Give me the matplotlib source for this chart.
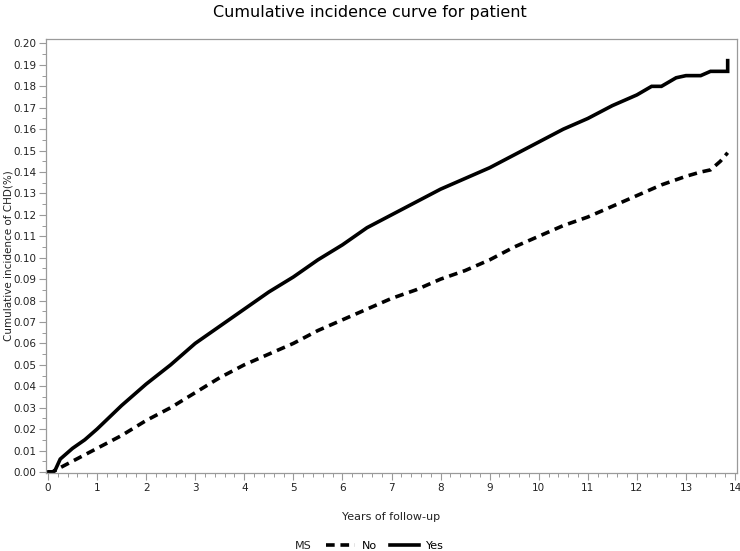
import matplotlib
matplotlib.use("Agg")
import matplotlib.pyplot as plt
from matplotlib.lines import Line2D
from matplotlib.ticker import MultipleLocator

# Data
years_yes = [0, 0.1, 0.15, 0.25, 0.5, 0.75, 1.0, 1.5, 2.0, 2.5, 3.0, 3.5, 4.0, 4.5,
             5.0, 5.5, 6.0, 6.5, 7.0, 7.5, 8.0, 8.5, 9.0, 9.5, 10.0, 10.5, 11.0,
             11.5, 12.0, 12.3, 12.5, 12.8, 13.0, 13.3, 13.5, 13.85, 13.85]
inc_yes = [0, 0, 0.001, 0.006, 0.011, 0.015, 0.020, 0.031, 0.041, 0.050, 0.060,
           0.068, 0.076, 0.084, 0.091, 0.099, 0.106, 0.114, 0.120, 0.126, 0.132,
           0.137, 0.142, 0.148, 0.154, 0.160, 0.165, 0.171, 0.176, 0.180, 0.180,
           0.184, 0.185, 0.185, 0.187, 0.187, 0.192]

years_no = [0, 0.1, 0.25, 0.5, 1.0, 1.5, 2.0, 2.5, 3.0, 3.5, 4.0, 4.5, 5.0, 5.5,
            6.0, 6.5, 7.0, 7.5, 8.0, 8.5, 9.0, 9.5, 10.0, 10.5, 11.0, 11.5, 12.0,
            12.5, 13.0, 13.3, 13.5, 13.7, 13.85]
inc_no = [0, 0, 0.002, 0.005, 0.011, 0.017, 0.024, 0.030, 0.037, 0.044, 0.050,
          0.055, 0.060, 0.066, 0.071, 0.076, 0.081, 0.085, 0.090, 0.094, 0.099,
          0.105, 0.110, 0.115, 0.119, 0.124, 0.129, 0.134, 0.138, 0.140, 0.141,
          0.145, 0.149]

x_ticks = list(range(0, 15))
y_ticks = [i / 100 for i in range(0, 21)]

title = "Cumulative incidence curve for patient"
xlabel = "Years of follow-up"
ylabel = "Cumulative incidence of CHD(%)"
legend_title = "MS"
labels = ["No", "Yes"]

fig = plt.figure(figsize=(7.4, 5.51), dpi=100)
ax = fig.add_axes([46 / 740, 1 - 473 / 551, (737 - 46) / 740, (473 - 39) / 551])

ax.plot(years_no, inc_no, color="black", lw=2.6, linestyle=(0, (2.4, 1.6)),
        solid_capstyle="butt", dash_capstyle="butt")
ax.plot(years_yes, inc_yes, color="black", lw=2.6, solid_joinstyle="miter")

ax.set_xlim(-0.04, 14.04)
ax.set_ylim(-0.0005, 0.2021)
ax.set_xticks(x_ticks)
ax.set_yticks(y_ticks)
ax.set_yticklabels([f"{v:.2f}" for v in y_ticks])
ax.xaxis.set_minor_locator(MultipleLocator(0.2))
ax.yaxis.set_minor_locator(MultipleLocator(0.005))

grey = "#9a9a9a"
for s in ax.spines.values():
    s.set_color(grey)
    s.set_linewidth(0.9)
ax.tick_params(which="major", direction="out", length=5, width=0.8, color=grey,
               labelsize=7.5, labelcolor="#222222", pad=2)
ax.tick_params(which="minor", direction="out", length=3, width=0.7, color=grey)

ax.set_xlabel(xlabel, fontsize=8, color="#222222", labelpad=14)
fig.text(9 / 740, 1 - 256 / 551, ylabel, rotation=90, ha="center", va="center",
         fontsize=7.5, color="#222222")

fig.text(0.5, 1 - 12 / 551, title, ha="center", va="center", fontsize=11.5)

fig.text(303 / 740, 1 - 546 / 551, legend_title, ha="center", va="center", fontsize=8,
         color="#222222")
handles = [Line2D([], [], color="black", lw=2.6, linestyle=(0, (2.4, 1.6))),
           Line2D([], [], color="black", lw=2.6)]
fig.legend(handles, labels, loc="center", bbox_to_anchor=(385 / 740, 1 - 546 / 551),
           ncol=2, frameon=False, fontsize=8, handlelength=2.6, handletextpad=0.6,
           columnspacing=1.2, borderpad=0)

fig.savefig("out.png", dpi=100)
